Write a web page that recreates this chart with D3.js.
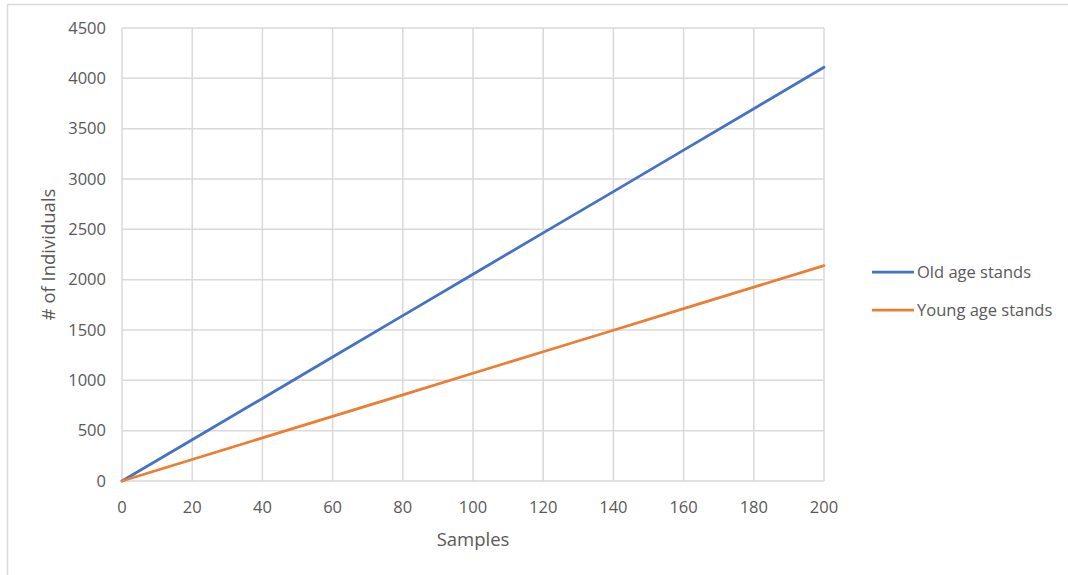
<!DOCTYPE html>
<html>
<head>
<meta charset="utf-8">
<script src="https://cdn.jsdelivr.net/npm/d3@7"></script>
<style>
  body { margin: 0; background: #fff; }
  text { font-family: "Open Sans", "Noto Sans", sans-serif; fill: #595959; }
</style>
</head>
<body>
<script>
// values
const samples = [0, 20, 40, 60, 80, 100, 120, 140, 160, 180, 200];
const oldStands = [0, 410, 820, 1232, 1643, 2054, 2465, 2875, 3287, 3698, 4110];
const youngStands = [0, 214, 428, 642, 856, 1070, 1284, 1498, 1712, 1926, 2140];
const seriesNames = ["Old age stands", "Young age stands"];
const xTicks = [0, 20, 40, 60, 80, 100, 120, 140, 160, 180, 200];
const yTicks = [0, 500, 1000, 1500, 2000, 2500, 3000, 3500, 4000, 4500];

const width = 1068, height = 575;
const margin = { top: 28, right: 244, bottom: 94, left: 122 };
const colors = ["#4472C4", "#ED7D31"];

const svg = d3.select("body").append("svg")
  .attr("width", width)
  .attr("height", height);

// outer chart border
svg.append("rect")
  .attr("x", 7.5).attr("y", 4.5)
  .attr("width", width).attr("height", height)
  .attr("fill", "none")
  .attr("stroke", "#d9d9d9")
  .attr("stroke-width", 1.5);

const x = d3.scaleLinear()
  .domain([0, 200])
  .range([margin.left, width - margin.right]);

const y = d3.scaleLinear()
  .domain([0, 4500])
  .range([height - margin.bottom, margin.top]);

// gridlines
svg.append("g")
  .selectAll("line")
  .data(xTicks)
  .join("line")
  .attr("x1", d => x(d)).attr("x2", d => x(d))
  .attr("y1", y(0)).attr("y2", y(4500))
  .attr("stroke", "#d9d9d9").attr("stroke-width", 1.5);

svg.append("g")
  .selectAll("line")
  .data(yTicks)
  .join("line")
  .attr("x1", x(0)).attr("x2", x(200))
  .attr("y1", d => y(d)).attr("y2", d => y(d))
  .attr("stroke", "#d9d9d9").attr("stroke-width", 1.5);

// x axis labels
svg.append("g")
  .selectAll("text")
  .data(xTicks)
  .join("text")
  .attr("x", d => x(d))
  .attr("y", y(0) + 32)
  .attr("text-anchor", "middle")
  .style("font-size", "16.5px")
  .text(d => d);

// y axis labels
svg.append("g")
  .selectAll("text")
  .data(yTicks)
  .join("text")
  .attr("x", x(0) - 16)
  .attr("y", d => y(d))
  .attr("dy", "0.35em")
  .attr("text-anchor", "end")
  .style("font-size", "16.5px")
  .text(d => d);

// axis titles
svg.append("text")
  .attr("x", (x(0) + x(200)) / 2)
  .attr("y", 546)
  .attr("text-anchor", "middle")
  .style("font-size", "18.5px")
  .text("Samples");

svg.append("text")
  .attr("transform", `translate(55,${(y(0) + y(4500)) / 2}) rotate(-90)`)
  .attr("text-anchor", "middle")
  .style("font-size", "18.5px")
  .text("# of Individuals");

// lines
const line = d3.line()
  .x((d, i) => x(samples[i]))
  .y(d => y(d));

svg.append("g")
  .selectAll("path")
  .data([oldStands, youngStands])
  .join("path")
  .attr("d", line)
  .attr("fill", "none")
  .attr("stroke", (d, i) => colors[i])
  .attr("stroke-width", 2.75)
  .attr("stroke-linecap", "round");

// legend
const legend = svg.append("g")
  .selectAll("g")
  .data(seriesNames)
  .join("g")
  .attr("transform", (d, i) => `translate(872,${272 + i * 38})`);

legend.append("line")
  .attr("x1", 0).attr("x2", 42)
  .attr("stroke", (d, i) => colors[i])
  .attr("stroke-width", 2.75);

legend.append("text")
  .attr("x", 45)
  .attr("dy", "0.35em")
  .style("font-size", "16.5px")
  .text(d => d);
</script>
</body>
</html>
